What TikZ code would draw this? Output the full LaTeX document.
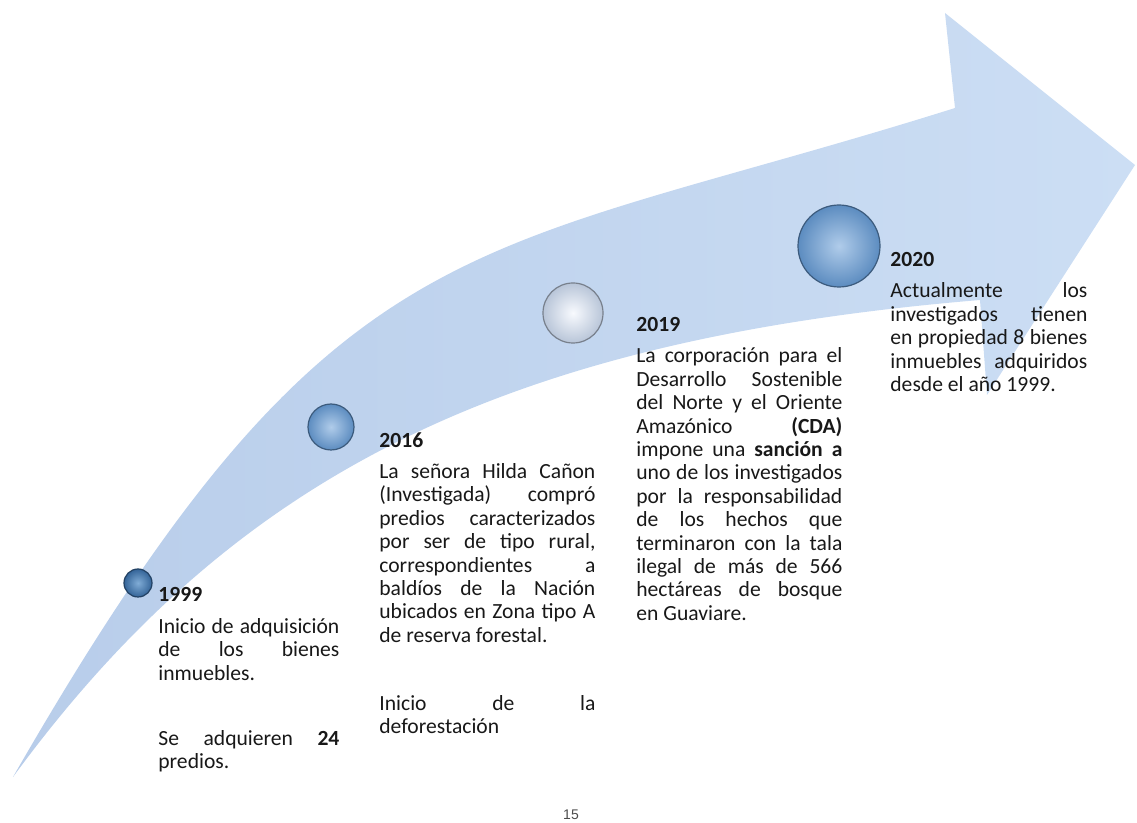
\documentclass[tikz,border=0pt]{standalone}
\usepackage{fontspec}
\setmainfont{Carlito}
\newfontfamily\pagefont{Liberation Sans}
\hyphenpenalty=10000
\tolerance=9999
\definecolor{arrowblue1}{RGB}{184, 205, 234}
\definecolor{arrowblue3}{RGB}{204, 222, 244}
\definecolor{beaddark1}{RGB}{52, 100, 152}
\definecolor{beaddark3}{RGB}{128, 172, 214}
\definecolor{beadmid1}{RGB}{92, 140, 192}
\definecolor{beadmid3}{RGB}{176, 204, 234}
\definecolor{beadpale1}{RGB}{184, 197, 216}
\definecolor{beadpale3}{RGB}{248, 250, 254}
\definecolor{inktext}{RGB}{24, 24, 24}
\usetikzlibrary{positioning}
\tikzset{
  % Bead sitting on the arrow (#1 = outer hue, #2 = centre hue).
  bead/.style 2 args={
    circle, inner sep=0pt,
    draw=#1!65!black, line width=0.6pt,
    inner color=#2, outer color=#1,
  },
  bead-dark/.style={bead={beaddark1}{beaddark3}},
  bead-mid/.style ={bead={beadmid1}{beadmid3}},
  bead-pale/.style={bead={beadpale1}{beadpale3}},
  % Justified text block under each year (#1 = column width).
  milestone/.style={
    anchor=north west, inner sep=0pt,
    text width=#1, align=justify,
    font=\fontsize{10.8pt}{11.7pt}\selectfont,
    text=inktext,
  },
}

\begin{document}
\begin{tikzpicture}[x=0.5pt, y=-0.5pt]
  \useasboundingbox (0,0) rectangle (1137,823);

  % The curved arrow.
  \shade[left color=arrowblue1, right color=arrowblue3]
    (13,777) .. controls (337,213) and (465,262) .. (955,108)
    -- (945,13) -- (1135,165) -- (987,395) -- (980,300)
    .. controls (500,340) and (233,477) .. (13,777)
    -- cycle;

  % Beads, growing along the arrow.
  \node[bead-dark, minimum size=14pt] (bola1999) at (138,583) {};
  \node[bead-mid,  minimum size=23pt] (bola2016) at (331,427) {};
  \node[bead-pale, minimum size=30pt] (bola2019) at (573,313) {};
  \node[bead-mid,  minimum size=41pt] (bola2020) at (839,246) {};

  % Year texts.
  \node[milestone=90.5pt] (txt1999) at (158,587) {%
    {\bfseries 1999}\\[4.3pt]
    Inicio de adquisición\linebreak de los bienes\linebreak
    inmuebles.\\[20.8pt]
    Se adquieren {\bfseries 24}\linebreak predios.%
  };
  \node[milestone=108pt] (txt2016) at (379,432) {%
    {\bfseries 2016}\\[4pt]
    La señora Hilda Cañon\linebreak (Investigada) compró\linebreak
    predios caracterizados\linebreak por ser de tipo rural,\linebreak
    correspondientes a\linebreak baldíos de la Nación\linebreak
    ubicados en Zona tipo A\linebreak de reserva forestal.\\[22.3pt]
    Inicio de la\linebreak deforestación%
  };
  \node[milestone=103pt] (txt2019) at (636,317) {%
    {\bfseries 2019}\\[4pt]
    La corporación para el\linebreak Desarrollo Sostenible\linebreak
    del Norte y el Oriente\linebreak Amazónico {\bfseries (CDA)}\linebreak
    impone una {\bfseries sanción a}\linebreak uno de los investigados\linebreak
    por la responsabilidad\linebreak de los hechos que\linebreak
    terminaron con la tala\linebreak ilegal de más de 566\linebreak
    hectáreas de bosque\linebreak en Guaviare.%
  };
  \node[milestone=98.5pt] (txt2020) at (890,252) {%
    {\bfseries 2020}\\[4pt]
    Actualmente los\linebreak investigados tienen\linebreak
    en propiedad 8 bienes\linebreak inmuebles adquiridos\linebreak
    desde el año 1999.%
  };

  % Page number.
  \node[font=\pagefont\fontsize{7pt}{8pt}\selectfont, text=black!70]
    (pagina) at (571,815) {15};

\end{tikzpicture}
\end{document}
